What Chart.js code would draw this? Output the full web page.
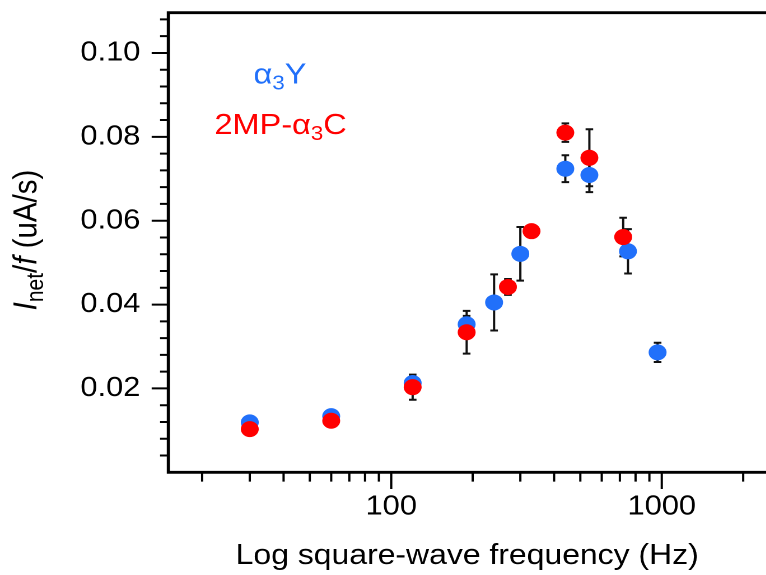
<!DOCTYPE html>
<html>
<head>
<meta charset="utf-8">
<script src="https://cdn.jsdelivr.net/npm/chart.js@4.4.1/dist/chart.umd.min.js"></script>
<style>
html,body{margin:0;padding:0;background:#fff;overflow:hidden;}
#wrap{width:766px;height:575px;position:relative;overflow:hidden;}
#c{position:absolute;left:0;top:0;transform:scaleX(1.12);transform-origin:0 0;}
</style>
</head>
<body>
<div id="wrap"><canvas id="c" width="684" height="575"></canvas></div>
<script>
// ---- data ----
const blueFreq = [30, 60, 120, 190, 240, 300, 440, 540, 750, 965];
const blueVal  = [0.0119, 0.0134, 0.0213, 0.0353, 0.0405, 0.0521, 0.0724, 0.0709, 0.0527, 0.0286];
const blueErr  = [0, 0, 0, 0.0020, 0.0067, 0.0064, 0.0032, 0.0041, 0.0053, 0.0023];
const redFreq  = [30, 60, 120, 190, 270, 330, 440, 540, 720];
const redVal   = [0.0103, 0.0123, 0.0203, 0.0334, 0.0442, 0.0575, 0.0810, 0.0750, 0.0561];
const redErr   = [0, 0, 0.0030, 0.0051, 0.0019, 0, 0.0022, 0.0068, 0.0046];
const xMajorTicks = [100, 1000];
const xMinorTicks = [20, 30, 40, 50, 60, 70, 80, 90, 200, 300, 400, 500, 600, 700, 800, 900, 2000];
const yMajorTicks = [0.02, 0.04, 0.06, 0.08, 0.10];
const yMinorTicks = [0.004, 0.008, 0.012, 0.016, 0.024, 0.028, 0.032, 0.036, 0.044, 0.048, 0.052, 0.056,
                     0.064, 0.068, 0.072, 0.076, 0.084, 0.088, 0.092, 0.096, 0.104, 0.108];
const seriesNames = ['α3Y', '2MP-α3C'];

const BLUE = '#2170fa';
const RED = '#ff0000';
const FONT = '"Liberation Sans", Arial, Helvetica, sans-serif';

const errorBars = {
  id: 'errorBars',
  beforeDatasetsDraw(chart) {
    const {ctx, scales: {x, y}} = chart;
    ctx.save();
    ctx.strokeStyle = '#111';
    ctx.lineWidth = 2;
    chart.data.datasets.forEach(ds => {
      ds.data.forEach((p, i) => {
        const e = ds.errors[i];
        if (!e) return;
        const px = x.getPixelForValue(p.x);
        const y1 = y.getPixelForValue(p.y + e);
        const y2 = y.getPixelForValue(p.y - e);
        ctx.beginPath();
        ctx.moveTo(px, y1); ctx.lineTo(px, y2);
        ctx.moveTo(px - 3.4, y1); ctx.lineTo(px + 3.4, y1);
        ctx.moveTo(px - 3.4, y2); ctx.lineTo(px + 3.4, y2);
        ctx.stroke();
      });
    });
    ctx.restore();
  }
};

const frame = {
  id: 'frame',
  afterDraw(chart) {
    const {ctx, chartArea: a, scales: {x, y}} = chart;
    ctx.save();
    ctx.strokeStyle = '#000';
    ctx.lineCap = 'butt';
    ctx.lineWidth = 2;
    ctx.beginPath();
    xMajorTicks.forEach(v => { const px = x.getPixelForValue(v); ctx.moveTo(px, a.bottom); ctx.lineTo(px, a.bottom + 16.7); });
    xMinorTicks.forEach(v => { const px = x.getPixelForValue(v); ctx.moveTo(px, a.bottom); ctx.lineTo(px, a.bottom + 9.3); });
    yMajorTicks.forEach(v => { const py = y.getPixelForValue(v); ctx.moveTo(a.left, py); ctx.lineTo(a.left - 14.9, py); });
    yMinorTicks.forEach(v => { const py = y.getPixelForValue(v); ctx.moveTo(a.left, py); ctx.lineTo(a.left - 7.4, py); });
    ctx.stroke();
    ctx.lineWidth = 2.8;
    ctx.beginPath();
    ctx.moveTo(a.left, a.top); ctx.lineTo(a.left, a.bottom);
    ctx.moveTo(a.left - 1.4, a.bottom); ctx.lineTo(a.right, a.bottom);
    ctx.moveTo(a.left - 1.4, a.top); ctx.lineTo(a.right, a.top);
    ctx.stroke();
    ctx.restore();
  }
};

function richWidth(ctx, parts) {
  let w = 0;
  parts.forEach(p => { ctx.font = p.font; w += ctx.measureText(p.t).width; });
  return w;
}
function drawRich(ctx, parts, cx, baseline, color) {
  const w = richWidth(ctx, parts);
  let x = cx - w / 2;
  ctx.fillStyle = color;
  ctx.textBaseline = 'alphabetic';
  ctx.textAlign = 'left';
  parts.forEach(p => {
    ctx.font = p.font;
    ctx.fillText(p.t, x, baseline + (p.dy || 0));
    x += ctx.measureText(p.t).width;
  });
}

const texts = {
  id: 'texts',
  afterDraw(chart) {
    const ctx = chart.ctx;
    ctx.save();
    const big = '29px ' + FONT, sub = '20px ' + FONT;
    drawRich(ctx, [{t: 'α', font: big}, {t: '3', font: sub, dy: 6}, {t: 'Y', font: big}], 250, 83.5, BLUE);
    drawRich(ctx, [{t: '2MP-α', font: big}, {t: '3', font: sub, dy: 6}, {t: 'C', font: big}], 250.5, 134, RED);
    ctx.translate(32.5, 240);
    ctx.rotate(-Math.PI / 2);
    const yt = '29.5px ' + FONT, yti = 'italic 29.5px ' + FONT, ys = '21px ' + FONT;
    drawRich(ctx, [{t: 'I', font: yti}, {t: 'net', font: ys, dy: 6}, {t: '/', font: yt}, {t: 'f', font: yti}, {t: ' (uA/s)', font: yt}], 0, 0, '#000');
    ctx.restore();
  }
};

function zeroPad(s) { s.paddingTop = 0; s.paddingBottom = 0; s.paddingLeft = 0; s.paddingRight = 0; }

const chart = new Chart(document.getElementById('c'), {
  type: 'scatter',
  data: {
    datasets: [
      { label: seriesNames[0], data: blueFreq.map((f, i) => ({x: f, y: blueVal[i]})), errors: blueErr,
        backgroundColor: BLUE, borderWidth: 0, pointRadius: 8, pointHoverRadius: 8, order: 2 },
      { label: seriesNames[1], data: redFreq.map((f, i) => ({x: f, y: redVal[i]})), errors: redErr,
        backgroundColor: RED, borderWidth: 0, pointRadius: 8, pointHoverRadius: 8, order: 1 }
    ]
  },
  options: {
    responsive: false,
    animation: false,
    devicePixelRatio: 2,
    layout: { autoPadding: false, padding: { top: 12.7, right: 0, left: 0, bottom: 0 } },
    plugins: { legend: { display: false }, tooltip: { enabled: false } },
    scales: {
      x: {
        type: 'logarithmic', min: 15, max: 2430,
        afterBuildTicks(s) { s.ticks = xMajorTicks.map(v => ({value: v})); },
        afterFit(s) { s.height = 102.7; zeroPad(s); },
        grid: { display: false, drawTicks: false },
        border: { display: false },
        ticks: { color: '#000', font: { family: FONT, size: 27.5 }, padding: 18, maxRotation: 0,
                 callback: v => String(v) },
        title: { display: true, text: 'Log square-wave frequency (Hz)', color: '#000',
                 font: { family: FONT, size: 28.5 }, padding: { top: 0, bottom: 2 } }
      },
      y: {
        type: 'linear', min: 0, max: 0.1096,
        afterBuildTicks(s) { s.ticks = yMajorTicks.map(v => ({value: v})); },
        afterFit(s) { s.width = 150.3; zeroPad(s); },
        grid: { display: false, drawTicks: false },
        border: { display: false },
        ticks: { color: '#000', font: { family: FONT, size: 27.5 }, padding: 25,
                 callback: v => v.toFixed(2) }
      }
    }
  },
  plugins: [errorBars, frame, texts]
});
</script>
</body>
</html>
